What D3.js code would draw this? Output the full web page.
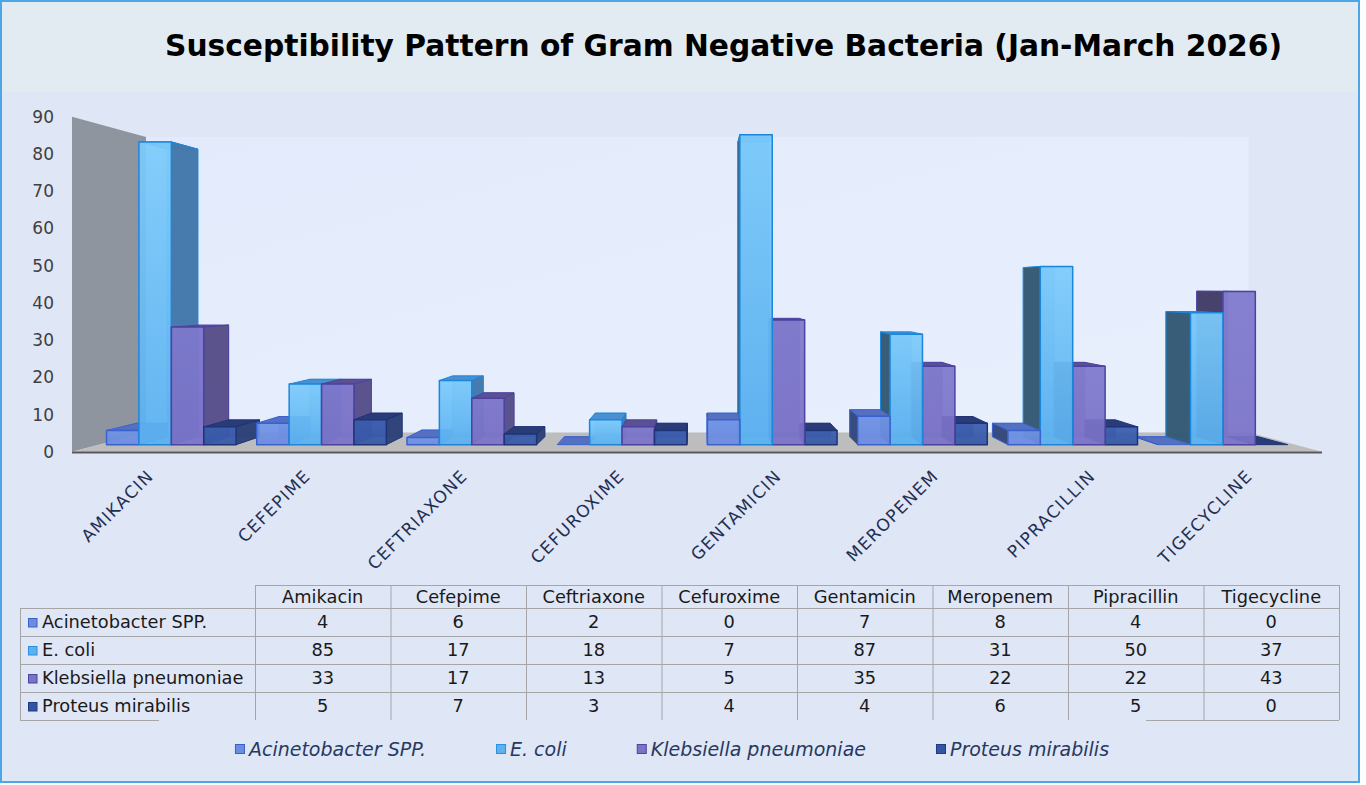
<!DOCTYPE html>
<html><head><meta charset="utf-8">
<script src="https://cdn.jsdelivr.net/npm/d3@7/dist/d3.min.js"></script>
<style>
html,body{margin:0;padding:0;background:#ffffff;}
svg{display:block;}
text{font-family:"DejaVu Sans",sans-serif;}
</style></head>
<body>
<svg id="chart" width="1366" height="785"></svg>
<script>
// ---------------- DATA ----------------
const titleText = "Susceptibility Pattern of Gram Negative Bacteria (Jan-March 2026)";
const categories = ["Amikacin","Cefepime","Ceftriaxone","Cefuroxime","Gentamicin","Meropenem","Pipracillin","Tigecycline"];
const seriesNames = ["Acinetobacter SPP.","E. coli","Klebsiella pneumoniae","Proteus mirabilis"];
const acinetobacter = [4,6,2,0,7,8,4,0];
const ecoli = [85,17,18,7,87,31,50,37];
const klebsiella = [33,17,13,5,35,22,22,43];
const proteus = [5,7,3,4,4,6,5,0];
const yTicks = [0,10,20,30,40,50,60,70,80,90];

const seriesValues = [acinetobacter, ecoli, klebsiella, proteus];

// ---------------- STYLE ----------------
const frontCol = ["#6a8ae0","#5ab0f0","#7a72c8","#3557a8"];
const frontTop = ["#7094e6","#7ccbfb","#7e78cc","#3a5cae"];
const strokeCol = ["#3a62cf","#1c86dd","#4d429f","#1f3377"];
const sideRightCol = ["#5b78c4","#4479aa","#58518a","#2e4279"];
const sideLeftCol = ["#34487c","#355a74","#443f68","#1c2550"];
const topCol = ["#5570c0","#4a90d0","#5a5094","#2a3c78"];
const swatchCol = ["#6a8de0","#5db1ef","#7a73c6","#3454a4"];
const swatchStroke = ["#3a5fc8","#2b8ee0","#4d45a0","#1f3a80"];

const W = 1366, H = 785;
const svg = d3.select("#chart");
const defs = svg.append("defs");

seriesNames.forEach((s,j)=>{
  const g = defs.append("linearGradient").attr("id","grad"+j)
    .attr("x1",0).attr("y1",0).attr("x2",0).attr("y2",1);
  g.append("stop").attr("offset","0%").attr("stop-color",frontTop[j]);
  g.append("stop").attr("offset","100%").attr("stop-color",frontCol[j]);
});
const wallGrad = defs.append("linearGradient").attr("id","wallGrad")
  .attr("x1",0).attr("y1",0).attr("x2",1).attr("y2",1);
wallGrad.append("stop").attr("offset","0%").attr("stop-color","#e3eafb");
wallGrad.append("stop").attr("offset","100%").attr("stop-color","#e8effd");

// backgrounds
svg.append("rect").attr("x",1).attr("y",1).attr("width",1358).attr("height",781).attr("fill","#dfe6f6");
svg.append("rect").attr("x",1).attr("y",1).attr("width",1358).attr("height",91).attr("fill","#e1ebf1");
svg.append("rect").attr("x",1).attr("y",1).attr("width",1358).attr("height",781)
  .attr("fill","none").attr("stroke","#4ca6e8").attr("stroke-width",2);

// title
svg.append("text").attr("x",165).attr("y",56)
  .attr("textLength",1117).attr("lengthAdjust","spacingAndGlyphs")
  .attr("font-size",31).attr("font-weight","bold").attr("fill","#000")
  .text(titleText);

// ---------------- 3D PROJECTION ----------------
const vp = {x:700, y:288};
const sFloorBack = 0.882, sBarFront = 0.957, sBarBack = 0.909;
function P(X,Y,s){ return [vp.x + (X-vp.x)*s, vp.y + (Y-vp.y)*s]; }

const y = d3.scaleLinear().domain([0,90]).range([451.7,116.7]);
const x = d3.scaleBand().domain(categories).range([72,1322]).paddingInner(0.137).paddingOuter(0.05);
const xs = d3.scaleBand().domain(seriesNames).range([0,x.bandwidth()]);

const X0 = 72, X1 = 1322, Ytop = y(90), Y0 = y(0);

// left wall
svg.append("polygon").attr("points",[P(X0,Ytop,1),P(X0,Ytop,sFloorBack),P(X0,Y0,sFloorBack),P(X0,Y0,1)].join(" "))
  .attr("fill","#8f959e");
// back wall
svg.append("polygon").attr("points",[P(X0,Ytop,sFloorBack),P(X1,Ytop,sFloorBack),P(X1,Y0,sFloorBack),P(X0,Y0,sFloorBack)].join(" "))
  .attr("fill","url(#wallGrad)");
// floor
svg.append("polygon").attr("points",[P(X0,Y0,1),P(X1,Y0,1),P(X1,Y0,sFloorBack),P(X0,Y0,sFloorBack)].join(" "))
  .attr("fill","#bdbdbd");
svg.append("line").attr("x1",X0).attr("x2",X1).attr("y1",Y0+0.8).attr("y2",Y0+0.8)
  .attr("stroke","#595959").attr("stroke-width",2);

// y axis labels
svg.append("g").selectAll("text").data(yTicks).join("text")
  .attr("x",54).attr("y",d=>y(d)).attr("dy","0.36em").attr("text-anchor","end")
  .attr("font-size",17).attr("fill","#404040").text(d=>d);

// bars
const bars = [];
categories.forEach((c,i)=>{
  seriesNames.forEach((s,j)=>{
    const xa = x(c)+xs(s), xb = xa+xs.bandwidth();
    bars.push({i,j,c,s,v:seriesValues[j][i],xa,xb});
  });
});
function centerDist(b){ return Math.abs((b.xa+b.xb)/2 - vp.x); }
bars.sort((a,b)=>centerDist(b)-centerDist(a));

const gBars = svg.append("g");
bars.forEach(b=>{
  const yt = y(b.v), yb = y(0);
  const g = gBars.append("g");
  const leftOfEye = (b.xa+b.xb)/2 < vp.x;
  // back outline (seen through transparency)
  g.append("polygon").attr("points",[P(b.xa,yt,sBarBack),P(b.xb,yt,sBarBack),P(b.xb,yb,sBarBack),P(b.xa,yb,sBarBack)].join(" "))
    .attr("fill",topCol[b.j]).attr("fill-opacity",0.5).attr("stroke",strokeCol[b.j]).attr("stroke-width",0.8).attr("stroke-opacity",0.6);
  // top face
  g.append("polygon").attr("points",[P(b.xa,yt,sBarFront),P(b.xb,yt,sBarFront),P(b.xb,yt,sBarBack),P(b.xa,yt,sBarBack)].join(" "))
    .attr("fill",topCol[b.j]).attr("stroke",strokeCol[b.j]).attr("stroke-width",1).attr("stroke-linejoin","round");
  // side face
  const sx = leftOfEye ? b.xb : b.xa;
  g.append("polygon").attr("points",[P(sx,yt,sBarFront),P(sx,yt,sBarBack),P(sx,yb,sBarBack),P(sx,yb,sBarFront)].join(" "))
    .attr("fill",leftOfEye?sideRightCol[b.j]:sideLeftCol[b.j]).attr("fill-opacity",0.97)
    .attr("stroke",strokeCol[b.j]).attr("stroke-width",1).attr("stroke-linejoin","round");
  // front face
  if (b.v > 0) {
    g.append("polygon").attr("points",[P(b.xa,yt,sBarFront),P(b.xb,yt,sBarFront),P(b.xb,yb,sBarFront),P(b.xa,yb,sBarFront)].join(" "))
      .attr("fill","url(#grad"+b.j+")").attr("fill-opacity",0.93)
      .attr("stroke",strokeCol[b.j]).attr("stroke-width",1.5).attr("stroke-linejoin","round");
  }
});

// x axis labels
svg.append("g").selectAll("text").data(categories).join("text")
  .attr("transform",d=>`translate(${x(d)+x.bandwidth()/2+7},477) rotate(-45)`)
  .attr("text-anchor","end").attr("font-size",17).attr("letter-spacing","1.3px")
  .attr("fill","#1f2f52").text(d=>d.toUpperCase());

// ---------------- DATA TABLE ----------------
const tx = d3.scaleBand().domain(categories).range([255,1339]);
const ty = d3.scaleBand().domain(seriesNames).range([608,720]);
const gridCol = "#a6a6a6";
const tFont = 17.8;
const tg = svg.append("g");
// horizontal lines
tg.append("line").attr("x1",255).attr("x2",1339).attr("y1",585.5).attr("y2",585.5).attr("stroke",gridCol);
seriesNames.forEach(s=>{
  tg.append("line").attr("x1",20).attr("x2",1339).attr("y1",ty(s)+0.5).attr("y2",ty(s)+0.5).attr("stroke",gridCol);
});
tg.append("line").attr("x1",20).attr("x2",159).attr("y1",720.5).attr("y2",720.5).attr("stroke",gridCol);
tg.append("line").attr("x1",1146).attr("x2",1339).attr("y1",720.5).attr("y2",720.5).attr("stroke",gridCol);
// vertical lines
tg.append("line").attr("x1",20.5).attr("x2",20.5).attr("y1",608).attr("y2",720).attr("stroke",gridCol);
categories.forEach(c=>{
  tg.append("line").attr("x1",tx(c)+0.5).attr("x2",tx(c)+0.5).attr("y1",585).attr("y2",720).attr("stroke",gridCol);
});
tg.append("line").attr("x1",1339.5).attr("x2",1339.5).attr("y1",585).attr("y2",720).attr("stroke",gridCol);
// header
tg.selectAll("text.hdr").data(categories).join("text").attr("class","hdr")
  .attr("x",d=>tx(d)+tx.bandwidth()/2).attr("y",603).attr("text-anchor","middle")
  .attr("font-size",tFont).attr("fill","#1a1a1a").text(d=>d);
// rows
seriesNames.forEach((s,j)=>{
  const yb = ty(s)+20;
  tg.append("rect").attr("x",28.5).attr("y",ty(s)+10.5).attr("width",8.5).attr("height",8.5)
    .attr("fill",swatchCol[j]).attr("stroke",swatchStroke[j]).attr("stroke-width",1);
  tg.append("text").attr("x",42).attr("y",yb).attr("font-size",tFont).attr("fill","#1a1a1a").text(s);
  tg.selectAll("text.v"+j).data(seriesValues[j]).join("text").attr("class","v"+j)
    .attr("x",(d,i)=>tx(categories[i])+tx.bandwidth()/2).attr("y",yb).attr("text-anchor","middle")
    .attr("font-size",tFont).attr("fill","#1a1a1a").text(d=>d);
});

// ---------------- LEGEND ----------------
const lg = svg.append("g");
const items = seriesNames.map((s,j)=>{
  const it = lg.append("g");
  it.append("rect").attr("x",0.5).attr("y",-11.5).attr("width",9).attr("height",9)
    .attr("fill",swatchCol[j]).attr("stroke",swatchStroke[j]);
  const t = it.append("text").attr("x",14).attr("y",0).attr("font-size",19).attr("font-style","italic")
    .attr("fill","#27395f").text(s);
  return {it, w: 14 + t.node().getComputedTextLength()};
});
const gap = 70;
const total = d3.sum(items,d=>d.w) + gap*(items.length-1);
let cx = 672 - total/2;
items.forEach(d=>{ d.it.attr("transform",`translate(${cx},756)`); cx += d.w + gap; });
</script>
</body></html>
